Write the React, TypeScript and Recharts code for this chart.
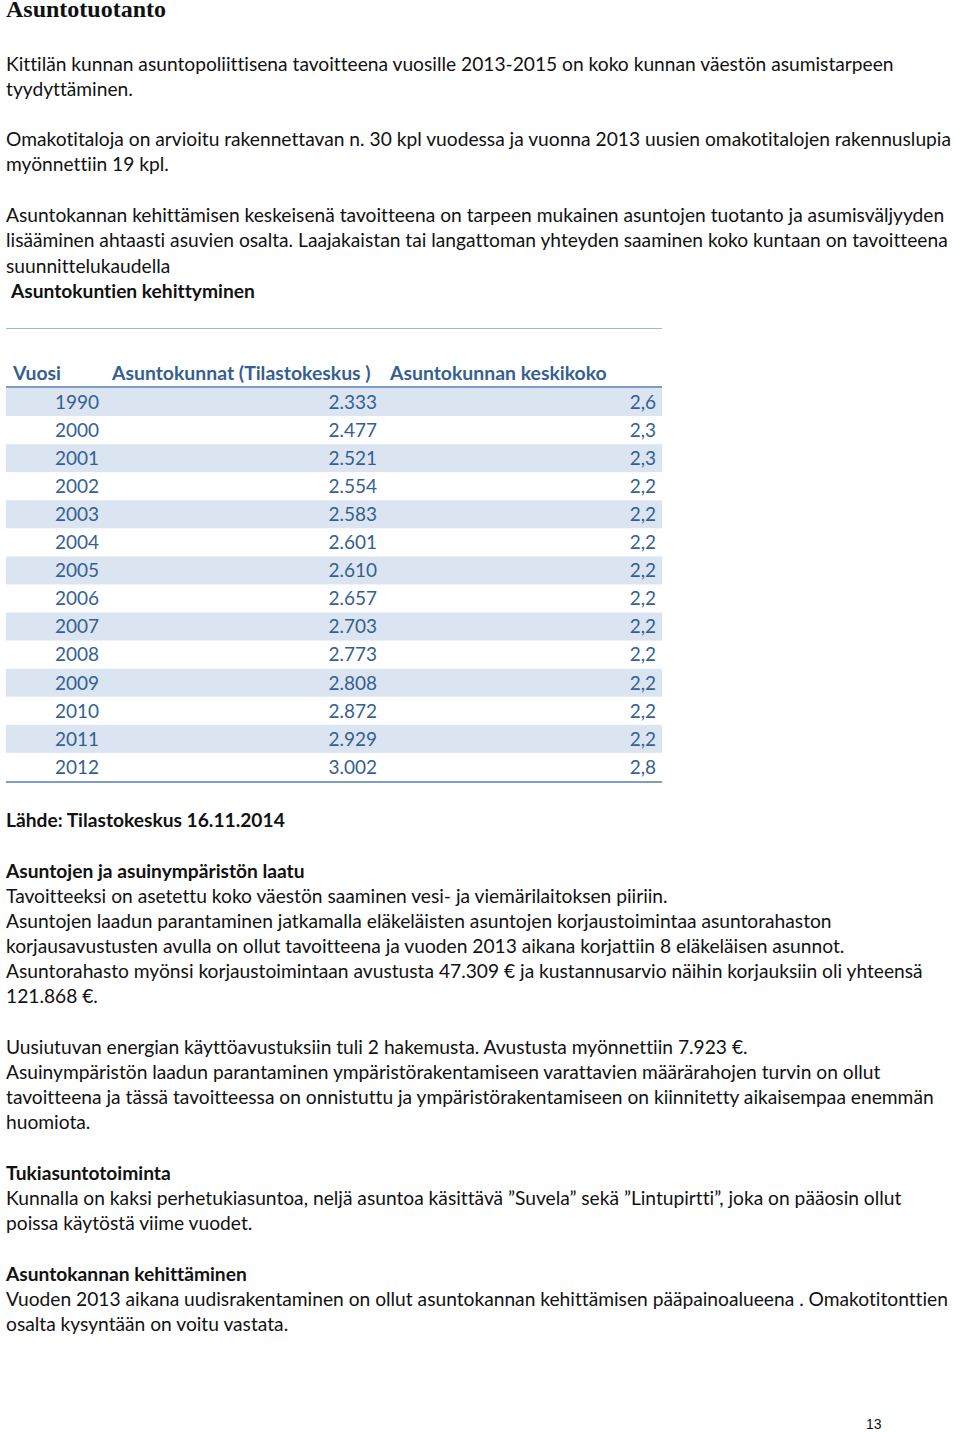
import React from "react";
import { Bar, BarChart, LabelList, XAxis, YAxis } from "recharts";

// Asuntokuntien kehittyminen — Tilastokeskus 16.11.2014
const years = ["1990", "2000", "2001", "2002", "2003", "2004", "2005", "2006", "2007", "2008", "2009", "2010", "2011", "2012"];
const households = [2333, 2477, 2521, 2554, 2583, 2601, 2610, 2657, 2703, 2773, 2808, 2872, 2929, 3002];
const avgSize = [2.6, 2.3, 2.3, 2.2, 2.2, 2.2, 2.2, 2.2, 2.2, 2.2, 2.2, 2.2, 2.2, 2.8];
const headers = ["Vuosi", "Asuntokunnat (Tilastokeskus )", "Asuntokunnan keskikoko"];

const rows = years.map((year, i) => ({ year, households: households[i], size: avgSize[i] }));

const BODY_FONT = "Lato, 'Open Sans', sans-serif";
const BODY_SIZE = 19.2;
const TABLE_BLUE = "#365f91";
const STRIPE = "#dbe5f1";
const RULE = "#7f9cc4";

type Line = { y: number; text: string; bold?: boolean; x?: number };

const topLines: Line[] = [
  { y: 64, text: "Kittilän kunnan asuntopoliittisena tavoitteena vuosille 2013-2015 on koko kunnan väestön asumistarpeen" },
  { y: 89, text: "tyydyttäminen." },
  { y: 139, text: "Omakotitaloja on arvioitu rakennettavan n. 30 kpl vuodessa ja vuonna 2013 uusien omakotitalojen rakennuslupia" },
  { y: 164, text: "myönnettiin 19 kpl." },
  { y: 215, text: "Asuntokannan kehittämisen keskeisenä tavoitteena on tarpeen mukainen asuntojen tuotanto ja asumisväljyyden" },
  { y: 240, text: "lisääminen ahtaasti asuvien osalta. Laajakaistan tai langattoman yhteyden saaminen koko kuntaan on tavoitteena" },
  { y: 266, text: "suunnittelukaudella" },
  { y: 291, text: "Asuntokuntien kehittyminen", bold: true, x: 11 },
];

const bottomLines: Line[] = [
  { y: 820, text: "Lähde: Tilastokeskus 16.11.2014", bold: true },
  { y: 871, text: "Asuntojen ja asuinympäristön laatu", bold: true },
  { y: 896, text: "Tavoitteeksi on asetettu koko väestön saaminen vesi- ja viemärilaitoksen piiriin." },
  { y: 921, text: "Asuntojen laadun parantaminen jatkamalla eläkeläisten asuntojen korjaustoimintaa asuntorahaston" },
  { y: 946, text: "korjausavustusten avulla on ollut tavoitteena ja vuoden 2013 aikana korjattiin 8 eläkeläisen asunnot." },
  { y: 971, text: "Asuntorahasto myönsi korjaustoimintaan avustusta 47.309 € ja kustannusarvio näihin korjauksiin oli yhteensä" },
  { y: 996, text: "121.868 €." },
  { y: 1047, text: "Uusiutuvan energian käyttöavustuksiin tuli 2 hakemusta. Avustusta myönnettiin 7.923 €." },
  { y: 1072, text: "Asuinympäristön laadun parantaminen ympäristörakentamiseen varattavien määrärahojen turvin on ollut" },
  { y: 1097, text: "tavoitteena ja tässä tavoitteessa on onnistuttu ja ympäristörakentamiseen on kiinnitetty aikaisempaa enemmän" },
  { y: 1122, text: "huomiota." },
  { y: 1173, text: "Tukiasuntotoiminta", bold: true },
  { y: 1198, text: "Kunnalla on kaksi perhetukiasuntoa, neljä asuntoa käsittävä ”Suvela” sekä ”Lintupirtti”, joka on pääosin ollut" },
  { y: 1223, text: "poissa käytöstä viime vuodet." },
  { y: 1274, text: "Asuntokannan kehittäminen", bold: true },
  { y: 1299, text: "Vuoden 2013 aikana uudisrakentaminen on ollut asuntokannan kehittämisen pääpainoalueena . Omakotitonttien" },
  { y: 1324, text: "osalta kysyntään on voitu vastata." },
];

const fmtCount = (v: number) => (v / 1000).toFixed(3);
const fmtSize = (v: number) => v.toFixed(1).replace(".", ",");

function TextLine({ line }: { line: Line }) {
  return (
    <div
      style={{
        position: "absolute",
        left: line.x ?? 6,
        top: line.y - 13,
        height: 26,
        lineHeight: "26px",
        whiteSpace: "nowrap",
        fontFamily: BODY_FONT,
        fontSize: BODY_SIZE,
        fontWeight: line.bold ? 700 : 400,
        fontVariantLigatures: "none",
        color: "#111",
      }}
    >
      {line.text}
    </div>
  );
}

const cellText = {
  fontFamily: BODY_FONT,
  fontSize: 19,
  fill: TABLE_BLUE,
} as const;

function Stripe(props: any) {
  const { x, y, width, height, index } = props;
  if (index % 2 !== 0) return <g />;
  return <rect x={x} y={y} width={width} height={height} fill={STRIPE} />;
}

// right-aligned column text, x is the column's right edge in the chart
const column = (right: number, fmt: (v: any) => string) =>
  function ColumnLabel(props: any) {
    const { y, height, value } = props;
    return (
      <text x={right} y={y + height / 2} dy="0.36em" textAnchor="end" {...cellText}>
        {fmt(value)}
      </text>
    );
  };

const yearLabel = column(93, (v) => String(v));
const countLabel = column(371, fmtCount);
const sizeLabel = column(650, fmtSize);

function HouseholdTable() {
  return (
    <div style={{ position: "absolute", left: 6, top: 388 }}>
      <BarChart
        layout="vertical"
        width={656}
        height={393}
        data={rows}
        margin={{ top: 0, right: 0, bottom: 0, left: 0 }}
        barCategoryGap={0}
      >
        <XAxis type="number" hide domain={[0, 3500]} />
        <YAxis type="category" dataKey="year" hide />
        <Bar dataKey="households" fill="transparent" background={Stripe} isAnimationActive={false}>
          <LabelList dataKey="year" content={yearLabel} />
          <LabelList dataKey="households" content={countLabel} />
          <LabelList dataKey="size" content={sizeLabel} />
        </Bar>
      </BarChart>
    </div>
  );
}

export default function App() {
  const headerX = [13, 112, 390];
  return (
    <div
      style={{
        position: "absolute",
        left: 0,
        top: 0,
        width: 960,
        height: 1432,
        background: "#fff",
        overflow: "hidden",
      }}
    >
      <div
        style={{
          position: "absolute",
          left: 6,
          top: 0,
          fontFamily: "'Liberation Serif', serif",
          fontWeight: 700,
          fontSize: 24,
          lineHeight: "18px",
          color: "#111",
          whiteSpace: "nowrap",
        }}
      >
        Asuntotuotanto
      </div>

      {topLines.map((l) => (
        <TextLine key={l.y} line={l} />
      ))}

      <div style={{ position: "absolute", left: 6, top: 328, width: 656, height: 1, background: "#9fb6d6" }} />

      {headers.map((h, i) => (
        <div
          key={h}
          style={{
            position: "absolute",
            left: headerX[i],
            top: 360,
            lineHeight: "26px",
            whiteSpace: "nowrap",
            fontFamily: BODY_FONT,
            fontSize: 19.4,
            fontWeight: 700,
            color: TABLE_BLUE,
          }}
        >
          {h}
        </div>
      ))}
      <div style={{ position: "absolute", left: 6, top: 386, width: 656, height: 2, background: RULE }} />

      <HouseholdTable />
      <div style={{ position: "absolute", left: 6, top: 781, width: 656, height: 2, background: RULE }} />

      {bottomLines.map((l) => (
        <TextLine key={l.y} line={l} />
      ))}

      <div
        style={{
          position: "absolute",
          left: 866,
          top: 1416,
          fontFamily: "'Liberation Sans', Arial, sans-serif",
          fontSize: 14,
          lineHeight: "16px",
          color: "#111",
        }}
      >
        13
      </div>
    </div>
  );
}
